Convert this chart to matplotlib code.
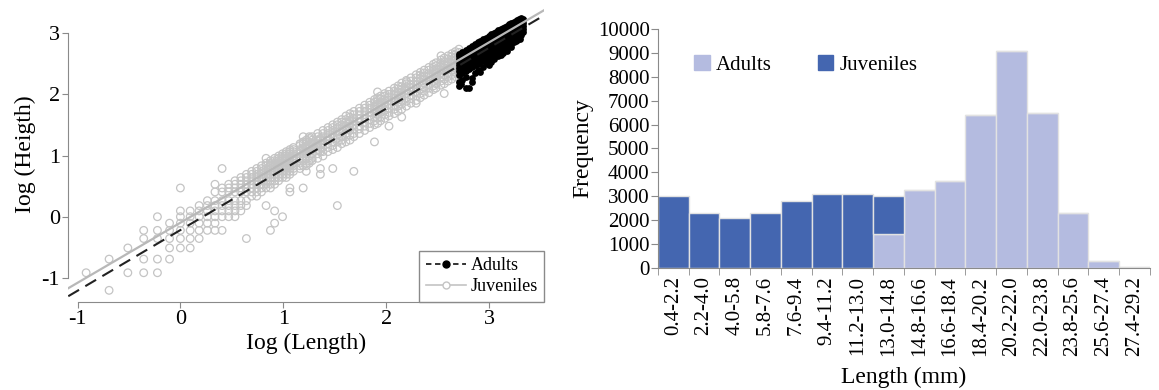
import numpy as np
import matplotlib
matplotlib.use("Agg")
import matplotlib.pyplot as plt
from matplotlib.lines import Line2D
from matplotlib.patches import Patch

plt.rcParams['font.family'] = ['Liberation Serif', 'DejaVu Serif']

# shell length (mm) -> heights (mm), juveniles
juv_rows = [
    (0.4, [0.4]),
    (0.5, [0.5, 0.3]),
    (0.6, [0.6, 0.4]),
    (0.7, [0.8, 0.7, 0.5, 0.4]),
    (0.8, [1.0, 0.8, 0.7, 0.5, 0.4]),
    (0.9, [0.9, 0.8, 0.7, 0.6, 0.5]),
    (1.0, [1.6, 1.1, 1.0, 0.9, 0.8, 0.7, 0.6]),
    (1.1, [1.1, 1.0, 0.9, 0.8, 0.7, 0.6]),
    (1.2, [1.2, 1.1, 1.0, 0.9, 0.8, 0.7]),
    (1.3, [1.3, 1.2, 1.1, 1.0, 0.9, 0.8]),
    (1.4, [1.7, 1.5, 1.3, 1.2, 1.1, 1.0, 0.9, 0.8]),
    (1.5, [2.2, 1.6, 1.5, 1.3, 1.2, 1.1, 1.0, 0.8]),
    (1.6, [1.7, 1.6, 1.5, 1.3, 1.2, 1.1, 1.0]),
    (1.7, [1.8, 1.7, 1.6, 1.5, 1.3, 1.2, 1.1, 1.0]),
    (1.8, [1.9, 1.8, 1.7, 1.6, 1.5, 1.3, 1.2, 1.1]),
    (1.9, [2.0, 1.9, 1.8, 1.7, 1.6, 1.5, 1.3, 1.2, 0.7]),
    (2.0, [2.1, 2.0, 1.9, 1.8, 1.7, 1.6, 1.5, 1.4]),
    (2.1, [2.2, 2.1, 2.0, 1.9, 1.8, 1.7, 1.6, 1.5, 1.4]),
    (2.2, [2.3, 2.2, 2.1, 2.0, 1.9, 1.8, 1.7, 1.6, 1.5]),
    (2.3, [2.6, 2.4, 2.3, 2.2, 2.1, 2.0, 1.9, 1.8, 1.7, 1.6, 1.2]),
    (2.4, [2.5, 2.4, 2.3, 2.2, 2.1, 2.0, 1.9, 1.8, 1.7, 1.6, 0.8]),
    (2.5, [2.6, 2.5, 2.4, 2.3, 2.2, 2.1, 2.0, 1.9, 1.8, 1.7, 1.1, 0.9]),
    (2.6, [2.7, 2.6, 2.5, 2.4, 2.3, 2.2, 2.1, 2.0, 1.9, 1.8]),
    (2.7, [2.8, 2.7, 2.6, 2.5, 2.4, 2.3, 2.2, 2.1, 2.0, 1.9, 1.0]),
    (2.8, [2.9, 2.8, 2.7, 2.6, 2.5, 2.4, 2.3, 2.2, 2.1, 2.0, 1.9]),
    (2.9, [3.0, 2.9, 2.8, 2.7, 2.6, 2.5, 2.4, 2.3, 2.2, 2.1, 2.0, 1.6, 1.5]),
    (3.0, [3.1, 3.0, 2.9, 2.8, 2.7, 2.6, 2.5, 2.4, 2.3, 2.2, 2.1]),
    (3.2, [3.3, 3.2, 3.0, 2.9, 2.8, 2.6, 2.5, 2.4, 2.3, 2.2]),
    (3.3, [3.7, 3.4, 3.3, 3.1, 3.0, 2.8, 2.7, 2.5, 2.3, 1.6]),
    (3.4, [3.5, 3.4, 3.2, 3.1, 2.9, 2.8, 2.6, 2.4, 2.3, 2.1]),
    (3.5, [3.7, 3.6, 3.4, 3.2, 3.1, 2.9, 2.7, 2.5, 2.4]),
    (3.6, [3.7, 3.5, 3.3, 3.2, 3.0, 2.8, 2.6, 2.5]),
    (3.8, [3.9, 3.7, 3.5, 3.3, 3.2, 3.0, 2.8, 2.6]),
    (3.9, [3.6, 3.5, 3.3, 3.1, 2.9, 2.2, 2.0]),
    (4.0, [4.1, 3.9, 3.7, 3.5, 3.3, 3.1, 2.9, 2.7]),
    (4.2, [4.3, 4.1, 3.9, 3.7, 3.5, 3.3, 3.1, 2.9]),
    (4.4, [4.5, 4.3, 4.1, 3.9, 3.7, 3.4, 3.2, 3.0, 2.2]),
    (4.6, [4.7, 4.5, 4.3, 4.0, 3.8, 3.6, 3.4, 3.1, 1.2]),
    (4.8, [4.9, 4.7, 4.5, 4.2, 4.0, 3.7, 3.5, 3.3]),
    (5.0, [5.2, 4.9, 4.7, 4.4, 4.2, 3.9, 3.7, 3.4]),
    (5.2, [5.4, 5.1, 4.8, 4.6, 4.3, 4.1, 3.8, 3.5]),
    (5.4, [5.6, 5.3, 5.0, 4.8, 4.5, 4.2, 3.9, 3.7, 2.1]),
    (5.7, [5.9, 5.6, 5.3, 5.0, 4.7, 4.4, 4.2, 3.9]),
    (6.0, [6.2, 5.9, 5.6, 5.3, 5.0, 4.7, 4.4, 4.1]),
    (6.3, [6.5, 6.2, 5.9, 5.5, 5.2, 4.9, 4.6, 4.3]),
    (6.6, [6.8, 6.5, 6.1, 5.8, 5.5, 5.1, 4.8, 4.5, 3.4]),
    (6.8, [7.7, 7.0, 6.7, 6.3, 6.0, 5.6, 5.3, 5.0, 4.6]),
    (7.0, [7.2, 6.9, 6.5, 6.2, 5.8, 5.5, 5.1, 4.8]),
    (7.3, [7.5, 7.2, 6.8, 6.4, 6.1, 5.7, 5.3, 5.0]),
    (7.6, [7.8, 7.4, 7.1, 6.7, 6.3, 5.9, 5.5, 5.2, 4.4]),
    (8.0, [8.2, 7.8, 7.4, 7.0, 6.6, 6.2, 5.8, 5.4]),
    (8.3, [8.5, 8.1, 7.7, 7.3, 6.9, 6.5, 6.1, 5.6]),
    (8.6, [8.9, 8.4, 8.0, 7.6, 7.1, 6.7, 6.3, 5.8, 5.1]),
    (9.0, [9.3, 9.1, 8.8, 8.4, 7.9, 7.5, 7.0, 6.6, 6.1]),
    (9.4, [9.7, 9.2, 8.7, 8.3, 7.8, 7.3, 6.9, 6.4]),
    (9.9, [10.2, 9.7, 9.2, 8.7, 8.2, 7.7, 7.2, 6.7, 6.4]),
    (10.3, [10.6, 10.1, 9.6, 9.1, 8.5, 8.0, 7.5, 7.0]),
    (10.7, [11.0, 10.5, 10.0, 9.4, 8.9, 8.3, 7.8, 7.3]),
    (11.2, [11.5, 11.0, 10.4, 9.9, 9.3, 8.7, 8.2, 7.6]),
    (11.7, [12.1, 11.5, 10.9, 10.3, 9.7, 9.1, 8.5, 8.0]),
    (12.0, [12.4, 11.8, 11.2, 10.6, 10.0, 9.4, 8.8, 8.2]),
    (12.6, [13.9, 13.0, 12.3, 11.7, 11.1, 10.5, 9.8, 9.2, 8.6]),
    (13.0, [13.4, 12.7, 12.1, 11.4, 10.8, 10.1, 9.5, 8.8, 7.5]),
    (13.5, [13.9, 13.2, 12.6, 11.9, 11.2, 10.5, 9.9, 9.2]),
    (14.0, [14.4, 13.7, 13.0, 12.3, 11.6, 10.9, 10.2, 9.5]),
    (14.5, [14.9, 14.2, 13.5, 12.8, 12.0, 11.3, 10.6, 9.9]),
    (15.0, [15.5, 14.7, 13.9, 13.2, 12.5, 11.7, 11.0, 10.2]),
]

# adults
adult_rows = [
    (15.0, [14.4, 13.8, 13.2, 12.6, 12.0, 11.4, 10.8, 10.2, 9.0, 8.5]),
    (15.5, [14.9, 14.3, 13.6, 13.0, 12.4, 11.8, 11.2, 10.5]),
    (16.0, [15.4, 14.7, 14.1, 13.4, 12.8, 12.2, 11.5, 10.9, 9.8, 8.2]),
    (16.5, [15.8, 15.2, 14.5, 13.9, 13.2, 12.5, 11.9, 11.2]),
    (17.0, [16.3, 15.6, 15.0, 14.3, 13.6, 12.9, 12.2, 11.6, 9.6, 9.0]),
    (17.5, [16.8, 16.1, 15.4, 14.7, 14.0, 13.3, 12.6, 11.9, 10.5]),
    (18.0, [17.3, 16.6, 15.8, 15.1, 14.4, 13.7, 13.0, 12.2, 11.0]),
    (18.5, [17.8, 17.0, 16.3, 15.5, 14.8, 14.1, 13.3, 12.6, 10.6]),
    (19.0, [18.2, 17.5, 16.7, 16.0, 15.2, 14.4, 13.7, 12.9, 11.5]),
    (19.5, [18.7, 17.9, 17.2, 16.4, 15.6, 14.8, 14.0, 13.3, 12.3]),
    (20.0, [19.2, 18.4, 17.6, 16.8, 16.0, 15.2, 14.4, 13.6, 12.0]),
    (20.5, [19.7, 18.9, 18.0, 17.2, 16.4, 15.6, 14.8, 13.9, 12.6]),
    (21.0, [20.2, 19.3, 18.5, 17.6, 16.8, 16.0, 15.1, 14.3, 13.2]),
    (21.5, [20.6, 19.8, 18.9, 18.1, 17.2, 16.3, 15.5, 14.6]),
    (22.0, [21.1, 20.2, 19.4, 18.5, 17.6, 16.7, 15.8, 15.0, 13.8]),
    (22.5, [21.6, 20.7, 19.8, 18.9, 18.0, 17.1, 16.2, 15.3, 14.0]),
    (23.0, [22.0, 21.2, 20.2, 19.3, 18.4, 17.5, 16.6, 15.6, 15.0]),
    (23.5, [22.4, 21.6, 20.7, 19.7, 18.8, 17.9, 16.9, 16.0]),
    (24.0, [22.8, 22.1, 21.1, 20.2, 19.2, 18.2, 17.3, 16.3, 15.0]),
    (24.5, [23.2, 22.5, 21.6, 20.6, 19.6, 18.6, 17.6, 16.7]),
    (25.0, [23.6, 22.9, 22.0, 21.0, 20.0, 19.0, 18.0, 17.0, 16.0]),
    (25.5, [24.0, 23.4, 22.4, 21.4, 20.4, 19.4, 18.4, 17.3]),
    (26.0, [24.4, 23.8, 22.9, 21.8, 20.8, 19.8, 18.7, 17.7]),
    (26.5, [24.8, 23.8, 22.8, 21.8, 20.7, 19.6, 18.5]),
    (27.0, [25.2, 24.2, 23.2, 22.1, 21.1, 20.0, 18.9]),
    (27.5, [25.6, 24.8, 23.8, 22.8, 21.7, 20.6, 19.5]),
    (28.0, [25.5, 24.8, 23.8, 22.7, 21.6, 20.5]),
]
adult_extra = [(15.4, 9.4), (15.3, 8.7), (16.6, 8.2), (20.3, 13.1), (20.9, 13.6),
               (23.1, 14.5), (25.0, 17.3), (26.3, 18.0), (27.2, 18.2), (24.2, 16.2)]

# fitted lines (intercept, slope) in log space
fit_juv = (-0.098, 0.983)
fit_adult = (-0.218, 0.993)

# histogram
classes = ["0.4-2.2", "2.2-4.0", "4.0-5.8", "5.8-7.6", "7.6-9.4", "9.4-11.2",
           "11.2-13.0", "13.0-14.8", "14.8-16.6", "16.6-18.4", "18.4-20.2",
           "20.2-22.0", "22.0-23.8", "23.8-25.6", "25.6-27.4", "27.4-29.2"]
adult_freq = [0, 0, 0, 0, 0, 0, 0, 1400, 3250, 3650, 6400, 9100, 6500, 2300, 300, 40]
juv_freq = [3000, 2300, 2100, 2300, 2800, 3100, 3100, 1600, 0, 0, 0, 0, 0, 0, 0, 0]

jl = np.log([L for L, hs in juv_rows for h in hs])
jh = np.log([h for L, hs in juv_rows for h in hs])
al = np.log([L for L, hs in adult_rows for h in hs] + [p[0] for p in adult_extra])
ah = np.log([h for L, hs in adult_rows for h in hs] + [p[1] for p in adult_extra])

fig = plt.figure(figsize=(11.59, 3.9), dpi=100)
spine_col = "#8a8a8a"

# ---- scatter
ax1 = fig.add_axes([0.0589, 0.2264, 0.4109, 0.7556])
ax1.scatter(jl, jh, s=30, facecolors="none", edgecolors="#c4c4c4", linewidths=0.9, zorder=2)
ax1.scatter(al, ah, s=24, color="black", linewidths=0, zorder=3)
xx = np.array([-1.09, 3.54])
ax1.plot(xx, fit_juv[0] + fit_juv[1] * xx, color="#b8b8b8", lw=1.6, zorder=4)
ax1.plot(xx, fit_adult[0] + fit_adult[1] * xx, color="#222222", lw=1.5,
         dashes=(6, 3.5), zorder=5)
ax1.set_xlim(-1.09, 3.54)
ax1.set_ylim(-1.39, 3.43)
ax1.set_xticks([-1, 0, 1, 2, 3])
ax1.set_yticks([-1, 0, 1, 2, 3])
ax1.set_xticklabels(["-1", "0", "1", "2", "3"])
ax1.set_yticklabels(["-1", "0", "1", "2", "3"])
for s in ["top", "right"]:
    ax1.spines[s].set_visible(False)
for s in ["left", "bottom"]:
    ax1.spines[s].set_color(spine_col)
    ax1.spines[s].set_bounds(-1, 3)
ax1.tick_params(direction="out", length=4, color=spine_col, labelsize=16, pad=2)
ax1.set_xlabel("Iog (Length)", fontsize=17, labelpad=3)
ax1.set_ylabel("Iog (Heigth)", fontsize=17, labelpad=4)

h_ad = Line2D([], [], color="#222222", lw=1.3, dashes=(3, 2), marker="o",
              markersize=5, markerfacecolor="black", markeredgecolor="black")
h_jv = Line2D([], [], color="#c4c4c4", lw=1.2, marker="o", markersize=5,
              markerfacecolor="white", markeredgecolor="#c4c4c4")
leg = ax1.legend([h_ad, h_jv], ["Adults", "Juveniles"], loc="lower right",
                 bbox_to_anchor=(1.0, 0.0), borderaxespad=0, fontsize=13,
                 fancybox=False, framealpha=1, edgecolor=spine_col,
                 handlelength=2.2, handletextpad=0.3, borderpad=0.35,
                 labelspacing=0.25)
leg.get_frame().set_linewidth(1.0)

# ---- histogram
ax2 = fig.add_axes([0.5677, 0.3136, 0.4245, 0.6113])
pos = np.arange(len(classes))
c_ad = "#b4bbe0"
c_jv = "#4466b0"
ax2.bar(pos, adult_freq, width=1.0, color=c_ad, edgecolor="#e2e2e2", lw=1.0, zorder=2)
ax2.bar(pos, juv_freq, bottom=adult_freq, width=1.0, color=c_jv,
        edgecolor="#e2e2e2", lw=1.0, zorder=2)
ax2.set_xlim(-0.5, len(classes) - 0.5)
ax2.set_ylim(0, 10000)
ax2.set_yticks(np.arange(0, 10001, 1000))
ax2.set_xticks(pos)
ax2.set_xticklabels(classes, rotation=90)
ax2.set_xticks(np.arange(len(classes) + 1) - 0.5, minor=True)
for s in ["top", "right"]:
    ax2.spines[s].set_visible(False)
for s in ["left", "bottom"]:
    ax2.spines[s].set_color(spine_col)
ax2.tick_params(axis="x", which="major", length=0, labelsize=15, pad=6)
ax2.tick_params(axis="x", which="minor", length=5, color=spine_col, direction="out")
ax2.tick_params(axis="y", length=5, color=spine_col, labelsize=15, pad=1)
ax2.set_xlabel("Length (mm)", fontsize=17, labelpad=8)
ax2.set_ylabel("Frequency", fontsize=17, labelpad=3)
ax2.legend([Patch(color=c_ad), Patch(color=c_jv)], ["Adults", "Juveniles"],
           ncol=2, frameon=False, loc="center left", bbox_to_anchor=(0.035, 0.85),
           fontsize=15, handlelength=0.75, handleheight=0.75, handletextpad=0.3,
           columnspacing=2.2)

fig.savefig("out.png", dpi=100)
